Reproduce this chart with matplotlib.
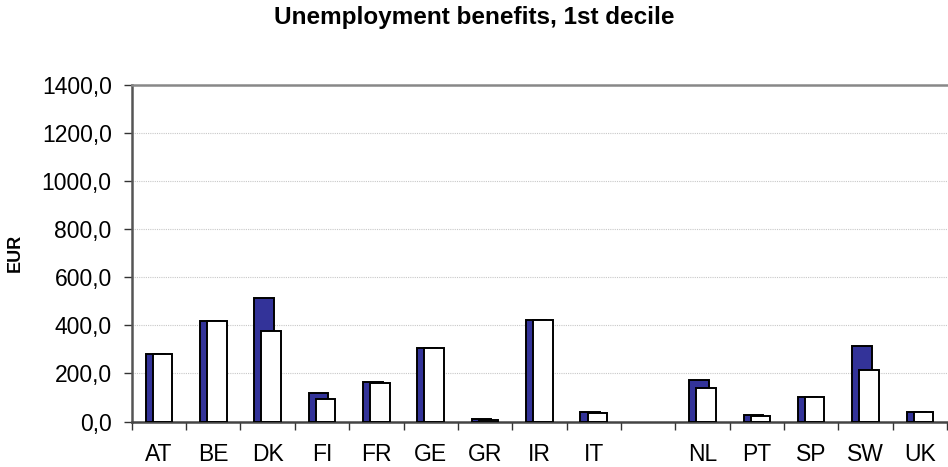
import numpy as np
import matplotlib
matplotlib.use("Agg")
import matplotlib.pyplot as plt
from matplotlib.ticker import FuncFormatter, FixedLocator

plt.rcParams['font.family'] = ['Liberation Sans', 'DejaVu Sans']

countries = ["AT", "BE", "DK", "FI", "FR", "GE", "GR", "IR", "IT", "",
             "NL", "PT", "SP", "SW", "UK"]
series_a = [282, 417, 515, 117, 163, 305, 9, 421, 38, np.nan,
            174, 26, 101, 313, 38]
series_b = [282, 417, 378, 95, 162, 305, 8, 421, 36, np.nan,
            138, 25, 101, 215, 38]
y_ticks = [0, 200, 400, 600, 800, 1000, 1200, 1400]

fig = plt.figure(figsize=(9.48, 4.67), dpi=100)
ax = fig.add_axes([0.139, 0.0974, 0.86, 0.7206])

x = np.arange(len(countries))
w = 0.36
off = 0.065
ax.bar(x - off, series_a, width=w, color="#333399", edgecolor="black",
       linewidth=1.4, zorder=3)
ax.bar(x + off, series_b, width=w, color="white", edgecolor="black",
       linewidth=1.4, zorder=4)

ax.set_xlim(-0.5, len(countries) - 0.5)
ax.set_ylim(0, 1400)

ax.set_yticks(y_ticks)
ax.yaxis.set_major_formatter(FuncFormatter(lambda v, p: f"{v:.1f}".replace(".", ",")))
ax.tick_params(axis="y", direction="out", length=5.5, width=1, color="#333333",
               labelsize=16.5, pad=9)

# category labels at centres, tick marks at category boundaries
ax.set_xticks(x)
ax.set_xticklabels(countries)
ax.tick_params(axis="x", which="major", length=0, labelsize=16.5, pad=15.5)
ax.xaxis.set_minor_locator(FixedLocator(np.arange(-0.5, len(countries), 1.0)))
ax.tick_params(axis="x", which="minor", direction="out", length=5.5, width=1,
               color="#333333")

ax.yaxis.grid(True, color="#c8c8c8", linestyle=(0, (1, 1)), linewidth=0.8, zorder=0)
ax.set_axisbelow(True)

ax.spines["left"].set_color("#555555")
ax.spines["left"].set_linewidth(1.8)
ax.spines["bottom"].set_color("#444444")
ax.spines["bottom"].set_linewidth(1.8)
ax.spines["top"].set_color("#888888")
ax.spines["top"].set_linewidth(1.8)
ax.spines["right"].set_visible(False)

ax.set_ylabel("EUR", fontsize=13, fontweight="bold", labelpad=13)
fig.suptitle("Unemployment benefits, 1st decile", fontsize=17.5, fontweight="bold",
             x=0.5, y=0.988, va="top")

fig.savefig("out.png", dpi=100)
